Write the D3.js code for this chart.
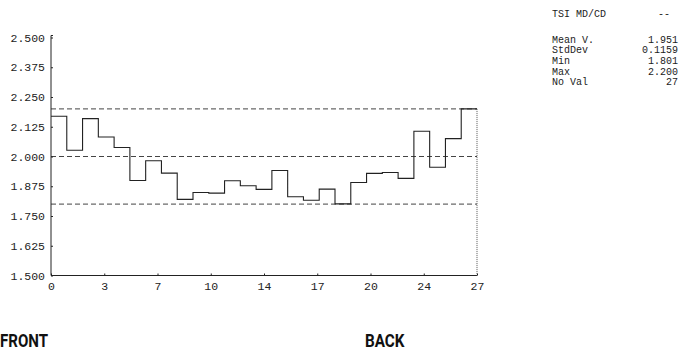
<!DOCTYPE html>
<html><head><meta charset="utf-8">
<script src="https://cdn.jsdelivr.net/npm/d3@7"></script>
<style>body{margin:0;background:#fff}svg{display:block}</style>
</head><body>
<svg id="c" width="681" height="351"></svg>
<script>
const values = [2.169,2.026,2.159,2.082,2.038,1.899,1.982,1.930,1.820,1.849,1.846,1.898,1.877,1.862,1.941,1.831,1.816,1.863,1.801,1.891,1.929,1.933,1.908,2.106,1.955,2.075,2.200];
const yTicks = [1.500,1.625,1.750,1.875,2.000,2.125,2.250,2.375,2.500];
const xTickLabels = ["0","3","7","10","14","17","20","24","27"];
const refLines = [1.8,2.0,2.2];
const statLabels = ["Mean V.","StdDev","Min","Max","No Val"];
const statValues = ["1.951","0.1159","1.801","2.200","27"];
const headerLabel = "TSI MD/CD", headerValue = "--";
const sideLabels = ["FRONT","BACK"];

const svg = d3.select("#c");
const x = d3.scaleLinear().domain([0, values.length]).range([51, 477]);
const y = d3.scaleLinear().domain([1.5, 2.5]).range([275.5, 37.5]);
const ink = "#222";
const mono = "'Liberation Mono', 'DejaVu Sans Mono', monospace";

// reference dashed lines
svg.selectAll("line.ref").data(refLines).join("line")
  .attr("x1", x(0)).attr("x2", x(values.length))
  .attr("y1", d => y(d)).attr("y2", d => y(d))
  .attr("stroke", "#444").attr("stroke-width", 1).attr("stroke-dasharray", "5,3");

// y axis
const yAxis = d3.axisLeft(y).tickValues(yTicks).tickFormat(d3.format(".3f")).tickSize(-2).tickPadding(6);
const gy = svg.append("g").attr("transform", `translate(${x(0)},0)`).call(yAxis);
gy.select(".domain").attr("stroke", ink).attr("d", `M0,${y(1.5)}V${y(2.5)-2}M0,${y(2.5)-2}h2`);
gy.selectAll(".tick line").attr("stroke", ink);
gy.selectAll("text").attr("font-family", mono).attr("font-size", 11.5).attr("fill", ink);

// x axis
const xTickVals = xTickLabels.map((d, i) => i * values.length / (xTickLabels.length - 1));
const xAxis = d3.axisBottom(x).tickValues(xTickVals).tickFormat((d, i) => xTickLabels[i]).tickSize(-2).tickPadding(6);
const gx = svg.append("g").attr("transform", `translate(0,${y(1.5)})`).call(xAxis);
gx.select(".domain").attr("stroke", ink).attr("d", `M${x(0)},0H${x(values.length)}`);
gx.selectAll(".tick line").attr("stroke", ink);
gx.selectAll("text").attr("font-family", mono).attr("font-size", 11.5).attr("fill", ink);

// step line
const pts = values.map((v, i) => [i, v]);
pts.push([values.length, values[values.length - 1]]);
const line = d3.line().x(d => x(d[0])).y(d => y(d[1])).curve(d3.curveStepAfter);
svg.append("path").attr("d", line(pts)).attr("fill", "none").attr("stroke", ink).attr("stroke-width", 1.1);

// right dotted drop
svg.append("line").attr("x1", x(values.length)).attr("x2", x(values.length))
  .attr("y1", y(values[values.length - 1])).attr("y2", y(1.5))
  .attr("stroke", "#555").attr("stroke-width", 1).attr("stroke-dasharray", "1,1");

// stats block
const st = svg.append("g").attr("font-family", mono).attr("font-size", 10).attr("fill", ink);
st.append("text").attr("x", 552).attr("y", 17).text(headerLabel);
st.append("text").attr("x", 670).attr("y", 17).attr("text-anchor", "end").text(headerValue);
statLabels.forEach((l, i) => {
  st.append("text").attr("x", 552).attr("y", 42.5 + i * 10.7).text(l);
  st.append("text").attr("x", 678).attr("y", 42.5 + i * 10.7).attr("text-anchor", "end").text(statValues[i]);
});

// FRONT / BACK
const sx = [0, 365], sw = [48, 39.5];
sideLabels.forEach((t, i) => {
  svg.append("text").attr("x", sx[i]).attr("y", 346.5)
    .attr("font-family", "Roboto, 'Liberation Sans', sans-serif").attr("font-weight", "bold")
    .attr("font-size", 18).attr("fill", "#111")
    .attr("textLength", sw[i]).attr("lengthAdjust", "spacingAndGlyphs").text(t);
});
</script>
</body></html>
